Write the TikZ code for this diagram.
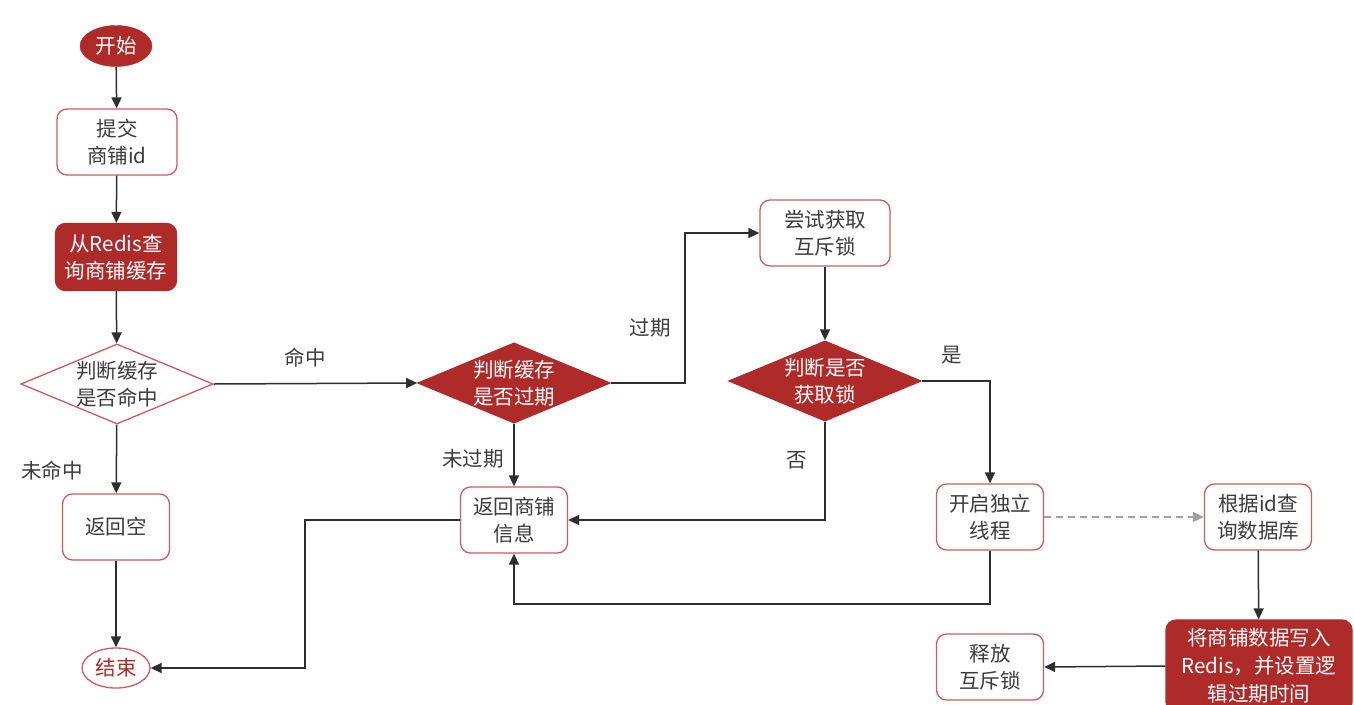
\documentclass[tikz,border=0pt]{standalone}
\usepackage{fontspec}
\setmainfont{Noto Sans CJK SC}
\usetikzlibrary{shapes.geometric,arrows.meta}
\definecolor{dred}{HTML}{AE2B29}
\definecolor{bred}{HTML}{D05A5A}
\definecolor{txt}{HTML}{3C3C3C}
\definecolor{ln}{HTML}{2E2E2E}
\begin{document}
\begin{tikzpicture}[x=1pt,y=-1pt,
  base/.style={align=center,inner sep=0pt,font=\fontsize{20.5}{27}\selectfont},
  wbox/.style={base,draw=bred,line width=1.3pt,rounded corners=10pt,fill=white,text=txt,minimum width=107pt,minimum height=66pt},
  rbox/.style={base,draw=dred,line width=1.3pt,rounded corners=10pt,fill=dred,text=white,minimum width=121pt,minimum height=67pt},
  wdia/.style={base,diamond,aspect=2.4,draw=bred,line width=1.3pt,fill=white,text=txt,minimum width=190pt,minimum height=79pt},
  rdia/.style={base,diamond,aspect=2.4,draw=dred,line width=1.3pt,fill=dred,text=white,minimum width=192pt,minimum height=79pt},
  lbl/.style={base,text=txt},
  conn/.style={draw=ln,line width=1.5pt,-{Triangle[length=11pt,width=10pt]}},
  dconn/.style={draw=gray!75,line width=1.5pt,dash pattern=on 7pt off 5pt,-{Triangle[length=11pt,width=10pt]}}
]
\useasboundingbox (0,0) rectangle (1354,704);
% nodes
\node[base,ellipse,fill=dred,draw=dred,text=white,minimum width=72pt,minimum height=41pt] (start) at (116,46) {开始};
\node[wbox,minimum width=120pt] (submit) at (117,142) {提交\\商铺id};
\node[rbox] (query) at (116,257) {从Redis查\\询商铺缓存};
\node[wdia] (hit) at (117,384) {判断缓存\\是否命中};
\node[wbox] (empty) at (116,527) {返回空};
\node[base,ellipse,draw=bred,line width=1.3pt,fill=white,text=dred,minimum width=68pt,minimum height=40pt] (end) at (116,668) {结束};
\node[rdia] (exp) at (514,383) {判断缓存\\是否过期};
\node[wbox] (ret) at (514,520) {返回商铺\\信息};
\node[wbox,minimum width=130pt] (try) at (825,233) {尝试获取\\互斥锁};
\node[rdia,minimum width=190pt] (lock) at (825,381) {判断是否\\获取锁};
\node[wbox] (thread) at (990,517) {开启独立\\线程};
\node[wbox] (db) at (1258,517) {根据id查\\询数据库};
\node[rbox,minimum width=186pt,minimum height=92pt,font=\fontsize{20.5}{28}\selectfont] (write) at (1259,666) {将商铺数据写入\\Redis，并设置逻\\辑过期时间};
\node[wbox] (release) at (990,667) {释放\\互斥锁};
% labels
\node[lbl] (lhit) at (305,358) {命中};
\node[lbl] (lmiss) at (52,471) {未命中};
\node[lbl] (lexp) at (650,328) {过期};
\node[lbl] (lnexp) at (473,459) {未过期};
\node[lbl] (lyes) at (952,355) {是};
\node[lbl] (lno) at (797,460) {否};
% connectors
\draw[conn] (start) -- (submit);
\draw[conn] (submit) -- (query);
\draw[conn] (query) -- (hit);
\draw[conn] (hit) -- (empty);
\draw[conn] (empty) -- (end);
\draw[conn] (hit.east) -- (exp.west);
\draw[conn] (exp.east) -- (685,383) -- (685,233) -- (try.west);
\draw[conn] (exp) -- (ret);
\draw[conn] (try) -- (lock);
\draw[conn] (lock.east) -| (thread.north);
\draw[conn] (lock.south) |- (ret.east);
\draw[conn] (thread.south) -- (990,604) -| (ret.south);
\draw[conn] (ret.west) -- (305,520) |- (end.east);
\draw[dconn] (thread.east) -- (db.west);
\draw[conn] (db) -- (write);
\draw[conn] (write.west) -- (release.east);
\end{tikzpicture}
\end{document}
